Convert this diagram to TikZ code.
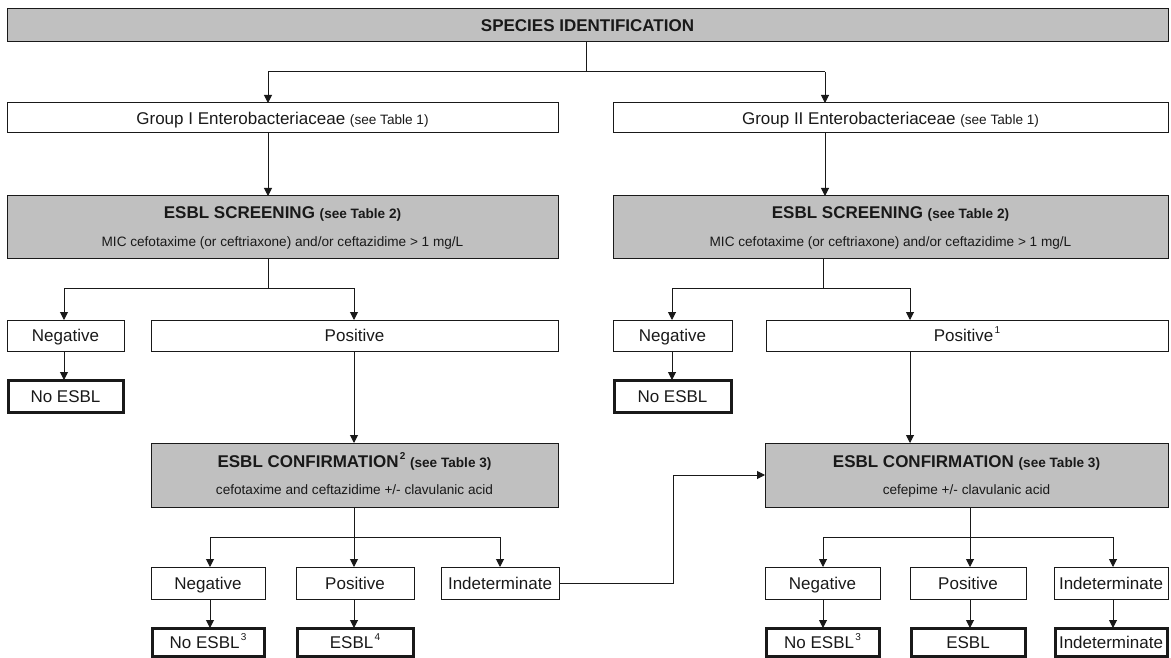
\documentclass[tikz,border=0pt]{standalone}
\usepackage{fontspec}
\setmainfont{Liberation Sans}
\usetikzlibrary{arrows.meta,calc}
\definecolor{boxgray}{RGB}{192,192,192}
\definecolor{ink}{RGB}{25,25,25}
\newcommand\bigf{\fontsize{17}{20}\selectfont}
\newcommand\smallf{\fontsize{13.6}{16}\selectfont}
\newcommand\supf[1]{\kern1.2pt\raisebox{0.45em}{\fontsize{10}{11}\selectfont #1}}
\begin{document}
\begin{tikzpicture}[x=1pt,y=-1pt,
  box/.style={draw=ink, line width=1pt, inner sep=0pt, outer sep=0pt, align=center, font=\bigf, text=ink, text height=12.2pt, text depth=0pt},
  graybox/.style={box, fill=boxgray},
  endbox/.style={box, line width=3pt},
  txt/.style={inner sep=0pt, text=ink, text height=12.2pt, text depth=0pt},
  subtxt/.style={inner sep=0pt, text=ink, font=\smallf, text height=9.8pt, text depth=0pt},
  arr/.style={draw=ink, -{Triangle[length=8pt,width=8pt]}, line width=1pt},
  ln/.style={draw=ink, line width=1pt}]
\useasboundingbox (0,0) rectangle (1171,658);

% top
\node[graybox, minimum width=1161pt, minimum height=33pt, font=\bigf\bfseries] (top) at (587.5,25.5) {SPECIES IDENTIFICATION};

% groups
\node[box, minimum width=551pt, minimum height=30pt] (g1) at (282.5,118) {Group I Enterobacteriaceae {\smallf (see Table 1)}};
\node[box, minimum width=555pt, minimum height=30pt] (g2) at (890.5,118) {Group II Enterobacteriaceae {\smallf (see Table 1)}};

% screening
\node[graybox, minimum width=551pt, minimum height=62pt] (s1) at (282.5,227) {};
\node[txt, font=\bigf\bfseries] (s1t) at (282.5,212) {ESBL SCREENING {\smallf (see Table 2)}};
\node[subtxt] (s1s) at (282.5,242) {MIC cefotaxime (or ceftriaxone) and/or ceftazidime > 1 mg/L};
\node[graybox, minimum width=555pt, minimum height=62pt] (s2) at (890.5,227) {};
\node[txt, font=\bigf\bfseries] (s2t) at (890.5,212) {ESBL SCREENING {\smallf (see Table 2)}};
\node[subtxt] (s2s) at (890.5,242) {MIC cefotaxime (or ceftriaxone) and/or ceftazidime > 1 mg/L};

% screening results
\node[box, minimum width=117pt, minimum height=31pt] (n1) at (65.5,335.5) {Negative};
\node[box, minimum width=407pt, minimum height=31pt] (p1) at (354.5,335.5) {Positive};
\node[endbox, minimum width=115pt, minimum height=32pt] (ne1) at (65.5,396) {No ESBL};
\node[box, minimum width=119pt, minimum height=31pt] (n2) at (672.5,335.5) {Negative};
\node[box, minimum width=402pt, minimum height=31pt] (p2) at (967,335.5) {Positive\supf{1}};
\node[endbox, minimum width=117pt, minimum height=32pt] (ne2) at (672.5,396) {No ESBL};

% confirmation
\node[graybox, minimum width=407pt, minimum height=64pt] (c1) at (354.5,475) {};
\node[txt, font=\bigf\bfseries] (c1t) at (354.5,461) {ESBL CONFIRMATION\supf{\bfseries 2} {\smallf (see Table 3)}};
\node[subtxt] (c1s) at (354.5,490) {cefotaxime and ceftazidime +/- clavulanic acid};
\node[graybox, minimum width=403pt, minimum height=64pt] (c2) at (966.5,475) {};
\node[txt, font=\bigf\bfseries] (c2t) at (966.5,461) {ESBL CONFIRMATION {\smallf (see Table 3)}};
\node[subtxt] (c2s) at (966.5,490) {cefepime +/- clavulanic acid};

% confirmation results
\node[box, minimum width=114pt, minimum height=32pt] (r1n) at (208,583) {Negative};
\node[box, minimum width=118pt, minimum height=32pt] (r1p) at (355,583) {Positive};
\node[box, minimum width=118pt, minimum height=32pt] (r1i) at (500,583) {Indeterminate};
\node[endbox, minimum width=112pt, minimum height=28pt] (o1n) at (208,642) {No ESBL\supf{3}};
\node[endbox, minimum width=116pt, minimum height=28pt] (o1p) at (355,642) {ESBL\supf{4}};

\node[box, minimum width=115pt, minimum height=32pt] (r2n) at (822.5,583) {Negative};
\node[box, minimum width=116pt, minimum height=32pt] (r2p) at (968,583) {Positive};
\node[box, minimum width=114pt, minimum height=32pt] (r2i) at (1111,583) {Indeterminate};
\node[endbox, minimum width=113pt, minimum height=28pt] (o2n) at (822.5,642) {No ESBL\supf{3}};
\node[endbox, minimum width=114pt, minimum height=28pt] (o2p) at (968,642) {ESBL};
\node[endbox, minimum width=112pt, minimum height=28pt] (o2i) at (1111,642) {Indeterminate};

% connectors: top
\coordinate (j0) at (586,72);
\coordinate (ja) at (268,72);
\coordinate (jb) at (825,72);
\draw[ln] (top.south -| j0) -- (j0);
\draw[ln] (ja) -- (jb);
\draw[arr] (ja) -- (ja |- g1.north);
\draw[arr] (jb) -- (jb |- g2.north);
\draw[arr] (g1.south -| ja) -- (s1.north -| ja);
\draw[arr] (g2.south -| jb) -- (s2.north -| jb);

% left screening
\coordinate (k1) at (268,288);
\coordinate (k1a) at (64,288);
\coordinate (k1b) at (354,288);
\draw[ln] (s1.south -| k1) -- (k1);
\draw[ln] (k1a) -- (k1b);
\draw[arr] (k1a) -- (k1a |- n1.north);
\draw[arr] (k1b) -- (k1b |- p1.north);
\draw[arr] (n1.south -| k1a) -- (ne1.north -| k1a);
\draw[arr] (p1.south -| k1b) -- (c1.north -| k1b);

% right screening
\coordinate (k2) at (823,288);
\coordinate (k2a) at (672,288);
\coordinate (k2b) at (910,288);
\draw[ln] (s2.south -| k2) -- (k2);
\draw[ln] (k2a) -- (k2b);
\draw[arr] (k2a) -- (k2a |- n2.north);
\draw[arr] (k2b) -- (k2b |- p2.north);
\draw[arr] (n2.south -| k2a) -- (ne2.north -| k2a);
\draw[arr] (p2.south -| k2b) -- (c2.north -| k2b);

% left confirmation
\coordinate (m1) at (354,537);
\coordinate (m1a) at (210,537);
\coordinate (m1c) at (500,537);
\draw[ln] (c1.south -| m1) -- (m1);
\draw[ln] (m1a) -- (m1c);
\draw[arr] (m1a) -- (m1a |- r1n.north);
\draw[arr] (m1) -- (m1 |- r1p.north);
\draw[arr] (m1c) -- (m1c |- r1i.north);
\draw[arr] (r1n.south -| m1a) -- (o1n.north -| m1a);
\draw[arr] (r1p.south -| m1) -- (o1p.north -| m1);

% right confirmation
\coordinate (m2) at (970,537);
\coordinate (m2a) at (823,537);
\coordinate (m2c) at (1113,537);
\draw[ln] (c2.south -| m2) -- (m2);
\draw[ln] (m2a) -- (m2c);
\draw[arr] (m2a) -- (m2a |- r2n.north);
\draw[arr] (m2) -- (m2 |- r2p.north);
\draw[arr] (m2c) -- (m2c |- r2i.north);
\draw[arr] (r2n.south -| m2a) -- (o2n.north -| m2a);
\draw[arr] (r2p.south -| m2) -- (o2p.north -| m2);
\draw[arr] (r2i.south -| m2c) -- (o2i.north -| m2c);

% indeterminate link
\coordinate (q) at (673,583);
\draw[arr] (r1i.east) -- (q) -- (q |- c2.west) -- (c2.west);
\end{tikzpicture}
\end{document}
